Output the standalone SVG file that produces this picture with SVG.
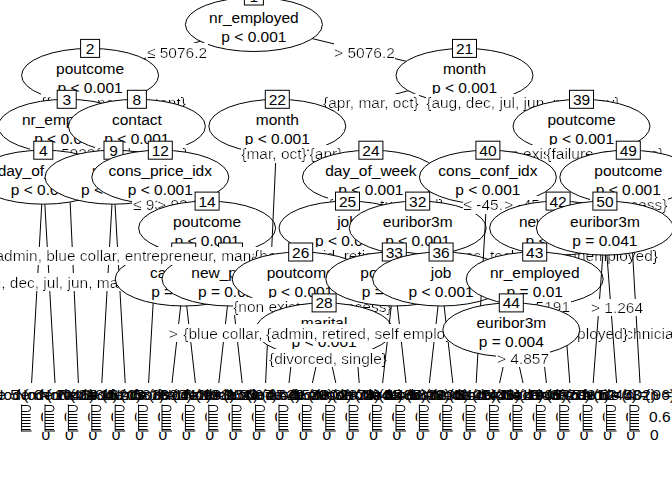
<svg xmlns="http://www.w3.org/2000/svg" width="672" height="480" viewBox="0 0 672 480">
<defs>
<style>
text{font-family:"Liberation Sans",Arial,sans-serif;font-size:15.5px;fill:#000}
.c,.lb{text-anchor:middle}
.lb{filter:url(#bg)}
.e,.bx{fill:#fff;stroke:#000;stroke-width:1}
.cn,.pn{stroke:#000;stroke-width:1;fill:none}
.pb{fill:#fff}
</style>
<filter id="bg" x="0" y="0" width="1" height="1"><feFlood flood-color="#fff" result="f"/><feMerge><feMergeNode in="f"/><feMergeNode in="SourceGraphic"/></feMerge></filter>
<ellipse id="E" class="e" cx="0" cy="0" rx="68.5" ry="27"/>
<g id="P"><rect class="pb" x="-12" y="403" width="23.4" height="29"/><path class="pn" d="M-10 404.5V431.5M-10 405.5H-4Q-1 405.5 -1 408.5Q-1 411.5 -4 411.5H-10M-10 414.5H-1M-10 417.5H-1M-10 420.5H-1M-10 423.5H-1M-10 426.5H-1M-10 429.5H-1"/><path class="pn" stroke-width="2" d="M-10 431H0"/><text x="9" y="422">0.6</text><text x="10" y="440">0</text></g>
</defs>
<rect width="672" height="480" fill="#fff"/>

<g class="cn" id="c1"><path d="M253.9 24.5L90.1 75.4M253.9 24.5L464.5 75.4"/></g>
<g id="n1" transform="translate(253.9 24.5)"><use href="#E"/><text class="c" y="-1.5">nr_employed</text><text class="c" y="17.5">p &lt; 0.001</text><rect class="bx" x="-9.5" y="-37.5" width="19" height="18"/><text class="c" y="-23">1</text></g>
<g id="l1"><text class="lb" x="177" y="57.5">≤ 5076.2</text><text class="lb" x="364.5" y="57.5">&gt; 5076.2</text></g>

<g class="cn" id="c2"><path d="M90.1 75.4L66.7 126.3M90.1 75.4L136.9 126.3"/></g>
<g id="n2" transform="translate(90.1 75.4)"><use href="#E"/><text class="c" y="-1.5">poutcome</text><text class="c" y="17.5">p &lt; 0.001</text><rect class="bx" x="-9.5" y="-36" width="19" height="18"/><text class="c" y="-21.5">2</text></g>
<g id="l2"><text class="lb" x="113.5" y="108.4">{failure, non existent}</text></g>

<g class="cn" id="c3"><path d="M66.7 126.3L43.3 177.2M66.7 126.3L78.4 383"/></g>
<g id="n3" transform="translate(66.7 126.3)"><use href="#E"/><text class="c" y="-1.5">nr_employed</text><text class="c" y="17.5">p &lt; 0.001</text><rect class="bx" x="-9.5" y="-36" width="19" height="18"/><text class="c" y="-21.5">3</text></g>
<g id="l3"><text class="lb" x="60.5" y="159.3">≤ 5023.5</text><text class="lb" x="78" y="159.3">&gt; 5023.5</text></g>

<g class="cn" id="c4"><path d="M43.3 177.2L31.6 383M43.3 177.2L55 383"/></g>
<g id="n4" transform="translate(43.3 177.2)"><use href="#E"/><text class="c" y="-1.5">day_of_week</text><text class="c" y="17.5">p &lt; 0.001</text><rect class="bx" x="-9.5" y="-36" width="19" height="18"/><text class="c" y="-21.5">4</text></g>
<g id="t5" transform="translate(31.6 0)"><text class="c" y="400">Node 5 (n = 1046)</text><use href="#P"/></g>
<g id="t6" transform="translate(55 0)"><text class="c" y="400">Node 6 (n = 2184)</text><use href="#P"/></g>
<g id="t7" transform="translate(78.4 0)"><text class="c" y="400">Node 7 (n = 1620)</text><use href="#P"/></g>

<g class="cn" id="c8"><path d="M136.9 126.3L113.5 177.2M136.9 126.3L160.3 177.2"/></g>
<g id="n8" transform="translate(136.9 126.3)"><use href="#E"/><text class="c" y="-1.5">contact</text><text class="c" y="17.5">p &lt; 0.001</text><rect class="bx" x="-9.5" y="-36" width="19" height="18"/><text class="c" y="-21.5">8</text></g>
<g id="l8"><text class="lb" x="125.2" y="159.3">{cellular}</text><text class="lb" x="148.6" y="159.3">{telephone}</text></g>

<g class="cn" id="c9"><path d="M113.5 177.2L101.8 383M113.5 177.2L125.2 383"/></g>
<g id="n9" transform="translate(113.5 177.2)"><use href="#E"/><text class="c" y="-1.5">month</text><text class="c" y="17.5">p &lt; 0.001</text><rect class="bx" x="-9.5" y="-36" width="19" height="18"/><text class="c" y="-21.5">9</text></g>
<g id="l9"><text class="lb" x="115" y="287.6">{aug, dec, jul, jun, mar, may, nov, oct, sep}</text></g>
<g id="t10" transform="translate(101.8 0)"><text class="c" y="400">Node 10 (n = 581)</text><use href="#P"/></g>
<g id="t11" transform="translate(125.2 0)"><text class="c" y="400">Node 11 (n = 3390)</text><use href="#P"/></g>

<g class="cn" id="c12"><path d="M160.3 177.2L148.6 383M160.3 177.2L207.1 228.1"/></g>
<g id="n12" transform="translate(160.3 177.2)"><use href="#E"/><text class="c" y="-1.5">cons_price_idx</text><text class="c" y="17.5">p &lt; 0.001</text><rect class="bx" x="-12" y="-36" width="24" height="18"/><text class="c" y="-21.5">12</text></g>
<g id="l12"><text class="lb" x="163" y="210.2">≤ 93.876</text><text class="lb" x="187.5" y="210.2">&gt; 93.876</text></g>
<g id="t13" transform="translate(148.6 0)"><text class="c" y="400">Node 13 (n = 412)</text><use href="#P"/></g>

<g class="cn" id="c14"><path d="M207.1 228.1L183.7 279M207.1 228.1L230.5 279"/></g>
<g id="n14" transform="translate(207.1 228.1)"><use href="#E"/><text class="c" y="-1.5">poutcome</text><text class="c" y="17.5">p &lt; 0.001</text><rect class="bx" x="-12" y="-36" width="24" height="18"/><text class="c" y="-21.5">14</text></g>

<g class="cn" id="c15"><path d="M183.7 279L172 383M183.7 279L195.4 383"/></g>
<g id="n15" transform="translate(183.7 279)"><use href="#E"/><text class="c" y="-1.5">campaign</text><text class="c" y="17.5">p = 0.002</text><rect class="bx" x="-12" y="-36" width="24" height="18"/><text class="c" y="-21.5">15</text></g>
<g id="l15"><text class="lb" x="184" y="338.5">&gt; 12</text></g>
<g id="t16" transform="translate(172 0)"><text class="c" y="400">Node 16 (n = 288)</text><use href="#P"/></g>
<g id="t17" transform="translate(195.4 0)"><text class="c" y="400">Node 17 (n = 156)</text><use href="#P"/></g>

<g class="cn" id="c18"><path d="M230.5 279L218.8 383M230.5 279L242.2 383"/></g>
<g id="n18" transform="translate(230.5 279)"><use href="#E"/><text class="c" y="-1.5">new_pdays</text><text class="c" y="17.5">p = 0.016</text><rect class="bx" x="-12" y="-36" width="24" height="18"/><text class="c" y="-21.5">18</text></g>
<g id="t19" transform="translate(218.8 0)"><text class="c" y="400">Node 19 (n = 97)</text><use href="#P"/></g>
<g id="t20" transform="translate(242.2 0)"><text class="c" y="400">Node 20 (n = 64)</text><use href="#P"/></g>

<g class="cn" id="c21"><path d="M464.5 75.4L277.3 126.3M464.5 75.4L581.5 126.3"/></g>
<g id="n21" transform="translate(464.5 75.4)"><use href="#E"/><text class="c" y="-1.5">month</text><text class="c" y="17.5">p &lt; 0.001</text><rect class="bx" x="-12" y="-36" width="24" height="18"/><text class="c" y="-21.5">21</text></g>
<g id="l21"><text class="lb" x="370.9" y="108.4">{apr, mar, oct}</text><text class="lb" x="523" y="108.4">{aug, dec, jul, jun, may, nov}</text></g>

<g class="cn" id="c22"><path d="M277.3 126.3L265.6 383M277.3 126.3L370.9 177.2"/></g>
<g id="n22" transform="translate(277.3 126.3)"><use href="#E"/><text class="c" y="-1.5">month</text><text class="c" y="17.5">p &lt; 0.001</text><rect class="bx" x="-12" y="-36" width="24" height="18"/><text class="c" y="-21.5">22</text></g>
<g id="l22"><text class="lb" x="274" y="159.3">{mar, oct}</text><text class="lb" x="326" y="159.3">{apr}</text></g>
<g id="t23" transform="translate(265.6 0)"><text class="c" y="400">Node 23 (n = 1520)</text><use href="#P"/></g>

<g class="cn" id="c24"><path d="M370.9 177.2L347.5 228.1M370.9 177.2L417.7 228.1"/></g>
<g id="n24" transform="translate(370.9 177.2)"><use href="#E"/><text class="c" y="-1.5">day_of_week</text><text class="c" y="17.5">p &lt; 0.001</text><rect class="bx" x="-12" y="-36" width="24" height="18"/><text class="c" y="-21.5">24</text></g>
<g id="l24"><text class="lb" x="359.2" y="210.2">{fri, mon}</text><text class="lb" x="394.3" y="210.2">{thu, tue, wed}</text></g>

<g class="cn" id="c25"><path d="M347.5 228.1L300.7 279M347.5 228.1L359.2 383"/></g>
<g id="n25" transform="translate(347.5 228.1)"><use href="#E"/><text class="c" y="-1.5">job</text><text class="c" y="17.5">p &lt; 0.001</text><rect class="bx" x="-12" y="-36" width="24" height="18"/><text class="c" y="-21.5">25</text></g>
<g id="l25"><text class="lb" x="324.1" y="261.1">{admin, blue collar, entrepreneur, management, self employed, services, technician, unemployed}</text><text class="lb" x="353.2" y="261.1">{housemaid, retired, student}</text></g>

<g class="cn" id="c26"><path d="M300.7 279L289 383M300.7 279L324.1 329.9"/></g>
<g id="n26" transform="translate(300.7 279)"><use href="#E"/><text class="c" y="-1.5">poutcome</text><text class="c" y="17.5">p &lt; 0.001</text><rect class="bx" x="-12" y="-36" width="24" height="18"/><text class="c" y="-21.5">26</text></g>
<g id="l26"><text class="lb" x="312.4" y="312">{non existent, success}</text></g>
<g id="t27" transform="translate(289 0)"><text class="c" y="400">Node 27 (n = 801)</text><use href="#P"/></g>

<g class="cn" id="c28"><path d="M324.1 329.9L312.4 383M324.1 329.9L335.8 383"/></g>
<g id="n28" transform="translate(324.1 329.9)"><use href="#E"/><text class="c" y="-1.5">marital</text><text class="c" y="17.5">p &lt; 0.001</text><rect class="bx" x="-12" y="-36" width="24" height="18"/><text class="c" y="-21.5">28</text></g>
<g id="l28"><text class="lb" x="328" y="363.9">{divorced, single}</text></g>
<g id="t29" transform="translate(312.4 0)"><text class="c" y="400">Node 29 (n = 2873)</text><use href="#P"/></g>
<g id="t30" transform="translate(335.8 0)"><text class="c" y="400">Node 30 (n = 2044)</text><use href="#P"/></g>
<g id="t31" transform="translate(359.2 0)"><text class="c" y="400">Node 31 (n = 1465)</text><use href="#P"/></g>

<g class="cn" id="c32"><path d="M417.7 228.1L394.3 279M417.7 228.1L441.1 279"/></g>
<g id="n32" transform="translate(417.7 228.1)"><use href="#E"/><text class="c" y="-1.5">euribor3m</text><text class="c" y="17.5">p &lt; 0.001</text><rect class="bx" x="-12" y="-36" width="24" height="18"/><text class="c" y="-21.5">32</text></g>

<g class="cn" id="c33"><path d="M394.3 279L382.6 383M394.3 279L406 383"/></g>
<g id="n33" transform="translate(394.3 279)"><use href="#E"/><text class="c" y="-1.5">poutcome</text><text class="c" y="17.5">p = 0.015</text><rect class="bx" x="-12" y="-36" width="24" height="18"/><text class="c" y="-21.5">33</text></g>
<g id="t34" transform="translate(382.6 0)"><text class="c" y="400">Node 34 (n = 1812)</text><use href="#P"/></g>
<g id="t35" transform="translate(406 0)"><text class="c" y="400">Node 35 (n = 233)</text><use href="#P"/></g>

<g class="cn" id="c36"><path d="M441.1 279L429.4 383M441.1 279L452.8 383"/></g>
<g id="n36" transform="translate(441.1 279)"><use href="#E"/><text class="c" y="-1.5">job</text><text class="c" y="17.5">p &lt; 0.001</text><rect class="bx" x="-12" y="-36" width="24" height="18"/><text class="c" y="-21.5">36</text></g>
<g id="l36"><text class="lb" x="435.3" y="338.5">{blue collar, entrepreneur, housemaid, management, services, technician}</text><text class="lb" x="447" y="338.5">{admin, retired, self employed, student, unemployed}</text></g>
<g id="t37" transform="translate(429.4 0)"><text class="c" y="400">Node 37 (n = 3120)</text><use href="#P"/></g>
<g id="t38" transform="translate(452.8 0)"><text class="c" y="400">Node 38 (n = 1433)</text><use href="#P"/></g>

<g class="cn" id="c39"><path d="M581.5 126.3L487.9 177.2M581.5 126.3L628.3 177.2"/></g>
<g id="n39" transform="translate(581.5 126.3)"><use href="#E"/><text class="c" y="-1.5">poutcome</text><text class="c" y="17.5">p &lt; 0.001</text><rect class="bx" x="-12" y="-36" width="24" height="18"/><text class="c" y="-21.5">39</text></g>
<g id="l39"><text class="lb" x="534.7" y="159.3">{non existent}</text><text class="lb" x="604.9" y="159.3">{failure, success}</text></g>

<g class="cn" id="c40"><path d="M487.9 177.2L476.2 383M487.9 177.2L558.1 228.1"/></g>
<g id="n40" transform="translate(487.9 177.2)"><use href="#E"/><text class="c" y="-1.5">cons_conf_idx</text><text class="c" y="17.5">p &lt; 0.001</text><rect class="bx" x="-12" y="-36" width="24" height="18"/><text class="c" y="-21.5">40</text></g>
<g id="l40"><text class="lb" x="487.6" y="210.2">≤ -45.9</text><text class="lb" x="528.5" y="210.2">&gt; -45.9</text></g>
<g id="t41" transform="translate(476.2 0)"><text class="c" y="400">Node 41 (n = 3410)</text><use href="#P"/></g>

<g class="cn" id="c42"><path d="M558.1 228.1L534.7 279M558.1 228.1L569.8 383"/></g>
<g id="n42" transform="translate(558.1 228.1)"><use href="#E"/><text class="c" y="-1.5">new_pdays</text><text class="c" y="17.5">p &lt; 0.001</text><rect class="bx" x="-12" y="-36" width="24" height="18"/><text class="c" y="-21.5">42</text></g>

<g class="cn" id="c43"><path d="M534.7 279L511.3 329.9M534.7 279L546.4 383"/></g>
<g id="n43" transform="translate(534.7 279)"><use href="#E"/><text class="c" y="-1.5">nr_employed</text><text class="c" y="17.5">p = 0.01</text><rect class="bx" x="-12" y="-36" width="24" height="18"/><text class="c" y="-21.5">43</text></g>
<g id="l43"><text class="lb" x="528.5" y="312">≤ 5191</text><text class="lb" x="546.1" y="312">&gt; 5191</text></g>

<g class="cn" id="c44"><path d="M511.3 329.9L499.6 383M511.3 329.9L523 383"/></g>
<g id="n44" transform="translate(511.3 329.9)"><use href="#E"/><text class="c" y="-1.5">euribor3m</text><text class="c" y="17.5">p = 0.004</text><rect class="bx" x="-12" y="-36" width="24" height="18"/><text class="c" y="-21.5">44</text></g>
<g id="l44"><text class="lb" x="523" y="363.9">&gt; 4.857</text></g>
<g id="t45" transform="translate(499.6 0)"><text class="c" y="400">Node 45 (n = 1905)</text><use href="#P"/></g>
<g id="t46" transform="translate(523 0)"><text class="c" y="400">Node 46 (n = 3720)</text><use href="#P"/></g>
<g id="t47" transform="translate(546.4 0)"><text class="c" y="400">Node 47 (n = 981)</text><use href="#P"/></g>
<g id="t48" transform="translate(569.8 0)"><text class="c" y="400">Node 48 (n = 1240)</text><use href="#P"/></g>

<g class="cn" id="c49"><path d="M628.3 177.2L604.9 228.1M628.3 177.2L640 383"/></g>
<g id="n49" transform="translate(628.3 177.2)"><use href="#E"/><text class="c" y="-1.5">poutcome</text><text class="c" y="17.5">p &lt; 0.001</text><rect class="bx" x="-12" y="-36" width="24" height="18"/><text class="c" y="-21.5">49</text></g>
<g id="l49"><text class="lb" x="616.6" y="210.2">{failure}</text><text class="lb" x="634.2" y="210.2">{success}</text></g>

<g class="cn" id="c50"><path d="M604.9 228.1L593.2 383M604.9 228.1L616.6 383"/></g>
<g id="n50" transform="translate(604.9 228.1)"><use href="#E"/><text class="c" y="-1.5">euribor3m</text><text class="c" y="17.5">p = 0.041</text><rect class="bx" x="-12" y="-36" width="24" height="18"/><text class="c" y="-21.5">50</text></g>
<g id="l50"><text class="lb" x="617" y="313">&gt; 1.264</text></g>
<g id="t51" transform="translate(593.2 0)"><text class="c" y="400">Node 51 (n = 402)</text><use href="#P"/></g>
<g id="t52" transform="translate(616.6 0)"><text class="c" y="400">Node 52 (n = 96)</text><use href="#P"/></g>
<g id="t53" transform="translate(640 0)"><text class="c" y="400">Node 53 (n = 11)</text><use href="#P"/></g>
</svg>
